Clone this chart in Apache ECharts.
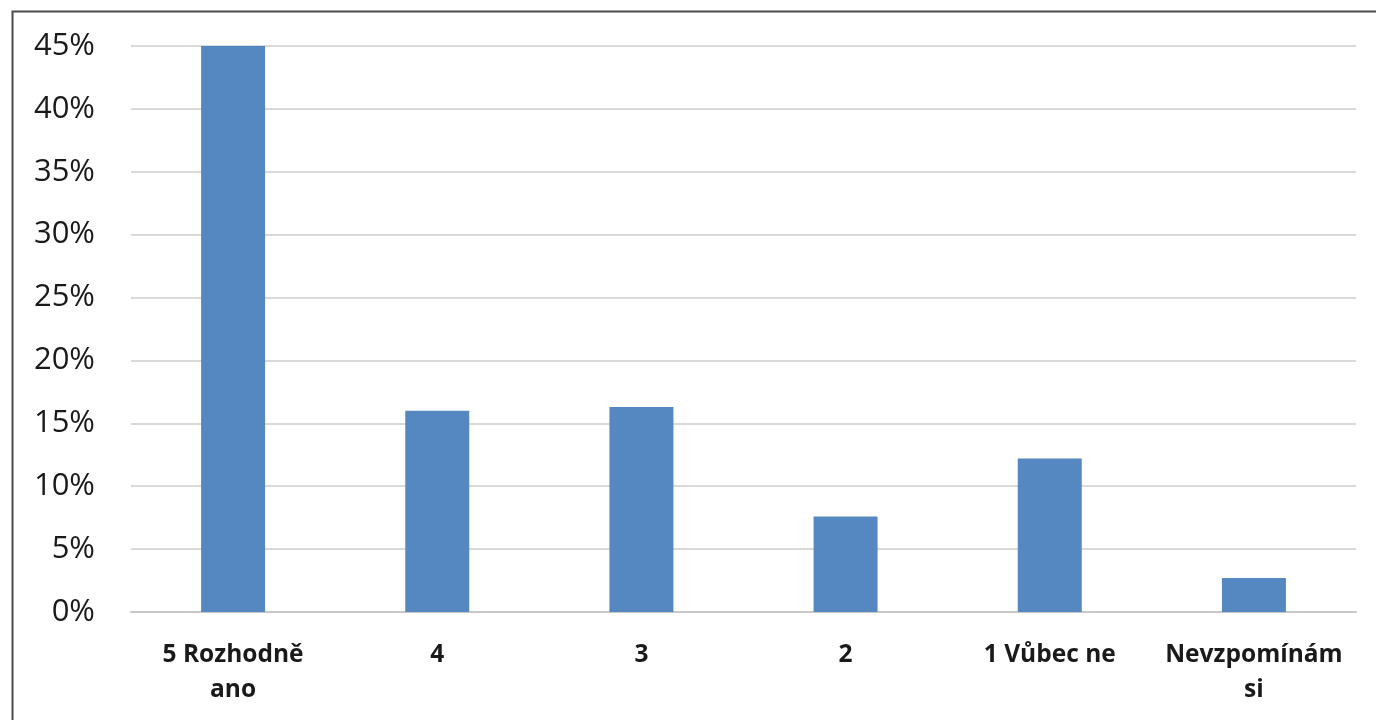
<!DOCTYPE html>
<html>
<head>
<meta charset="utf-8">
<script src="https://cdn.jsdelivr.net/npm/echarts@6/dist/echarts.min.js"></script>
<style>
  html, body { margin: 0; padding: 0; background: #fff; }
  #chart { width: 1376px; height: 720px; }
</style>
</head>
<body>
<div id="chart"></div>
<script>
// Answer categories (labels wrap onto a second line where needed)
const categories = ['5 Rozhodně\nano', '4', '3', '2', '1 Vůbec ne', 'Nevzpomínám\nsi'];
// Share of respondents, in percent
const shares = [45, 16, 16.3, 7.6, 12.2, 2.7];
// Value axis ticks
const yMin = 0, yMax = 45, yStep = 5;

const chart = echarts.init(document.getElementById('chart'));
chart.setOption({
  animation: false,
  backgroundColor: '#ffffff',
  graphic: [{
    type: 'rect',
    left: 10, top: 9,
    shape: { width: 1500, height: 900 },
    style: { fill: 'none', stroke: '#4a4a4a', lineWidth: 2 },
    silent: true
  }],
  grid: { left: 131, right: 20, top: 46, bottom: 108, containLabel: false },
  xAxis: {
    type: 'category',
    data: categories,
    axisLine: { lineStyle: { color: '#c8c8c8', width: 2 } },
    axisTick: { show: false },
    axisLabel: {
      interval: 0,
      margin: 26,
      fontFamily: 'Open Sans',
      fontWeight: 'bold',
      fontSize: 24.5,
      lineHeight: 35,
      color: '#1a1a1a'
    }
  },
  yAxis: {
    type: 'value',
    min: yMin, max: yMax, interval: yStep,
    axisLine: { show: false },
    axisTick: { show: false },
    splitLine: { lineStyle: { color: '#d9d9d9', width: 2 } },
    axisLabel: {
      margin: 36,
      fontFamily: 'Open Sans',
      fontSize: 31,
      color: '#1a1a1a',
      formatter: v => v + '%'
    }
  },
  series: [{
    type: 'bar',
    data: shares,
    barWidth: 64,
    itemStyle: { color: '#5588c0' }
  }]
});
</script>
</body>
</html>
